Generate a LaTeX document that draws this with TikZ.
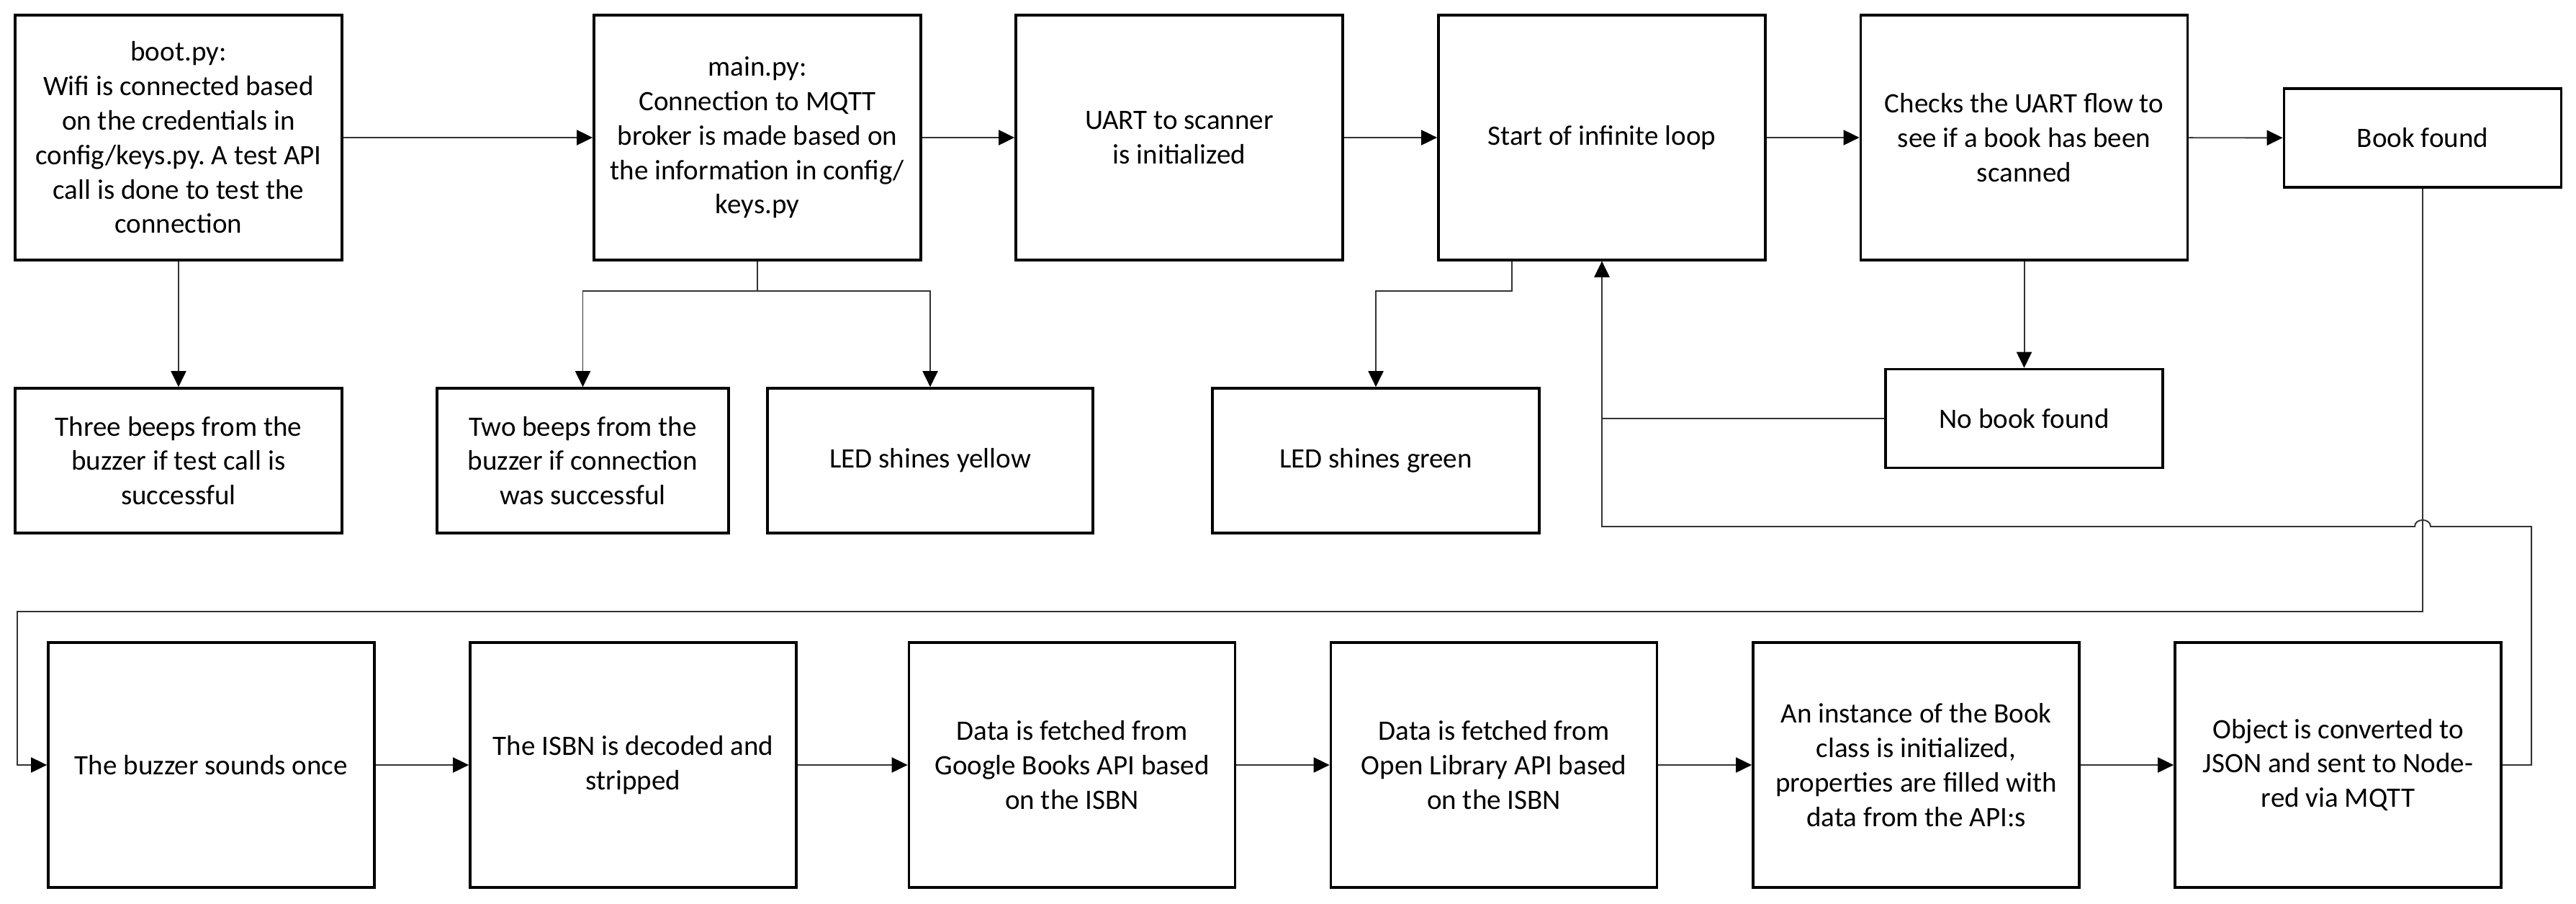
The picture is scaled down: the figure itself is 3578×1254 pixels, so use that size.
\documentclass[tikz,border=0pt]{standalone}
\usepackage{fontspec}
\setmainfont{Carlito}
\usetikzlibrary{arrows.meta}
\definecolor{linec}{HTML}{333333}
\frenchspacing

\begin{document}
\begin{tikzpicture}[x=0.01cm, y=-0.01cm, font=\fontsize{11.1pt}{13.6pt}\selectfont]
  \tikzset{box/.style={draw, line width=1pt, align=center, inner sep=0pt,
      minimum width=4.54cm, minimum height=3.4cm},
    lowbox/.style={box, minimum height=2.01cm},
    flat/.style={box, minimum width=3.85cm, minimum height=1.37cm},
    link/.style={draw=linec, line width=0.55pt},
    arr/.style={link, -{Triangle[length=0.22cm, width=0.21cm, color=black]}}}
  \useasboundingbox (0,0) rectangle (3578,1254);

  % top row
  \node[box] (boot) at (248,191) {boot.py:\\Wifi is connected based\\on the credentials in\\config/keys.py. A test API\\call is done to test the\\connection};
  \node[box] (main) at (1052,191) {main.py:\\Connection to MQTT\\broker is made based on\\the information in config/\\keys.py};
  \node[box] (uart) at (1638,191) {UART to scanner\\is initialized};
  \node[box] (start) at (2225,191) {Start of infinite loop};
  \node[box] (checks) at (2811.5,191) {Checks the UART flow to\\see if a book has been\\scanned};
  \node[flat] (book) at (3365,191.5) {Book found};

  % second row
  \node[lowbox] (three) at (248,639.5) {Three beeps from the\\buzzer if test call is\\successful};
  \node[lowbox, minimum width=4.05cm] (two) at (809.5,639.5) {Two beeps from the\\buzzer if connection\\was successful};
  \node[lowbox, minimum width=4.52cm] (yellow) at (1292,639.5) {LED shines yellow};
  \node[lowbox] (green) at (1911,639.5) {LED shines green};
  \node[flat] (nobook) at (2811.5,581) {No book found};

  % bottom row
  \node[box, minimum width=4.53cm] (buzzer) at (293.5,1062) {The buzzer sounds once};
  \node[box, minimum width=4.53cm] (isbn) at (879.5,1062) {The ISBN is decoded and\\stripped};
  \node[box, minimum width=4.53cm] (google) at (1489,1062) {Data is fetched from\\Google Books API based\\on the ISBN};
  \node[box, minimum width=4.53cm] (open) at (2075,1062) {Data is fetched from\\Open Library API based\\on the ISBN};
  \node[box, minimum width=4.53cm] (inst) at (2661.5,1062) {An instance of the Book\\class is initialized,\\properties are filled with\\data from the API:s};
  \node[box, minimum width=4.53cm] (obj) at (3247.5,1062) {Object is converted to\\JSON and sent to Node-\\red via MQTT};

  % corners of the connectors
  \coordinate (mainsplit) at (1052,404);
  \coordinate (startsplit) at (2100,404);
  \coordinate (bookdrop) at (3365,849);
  \coordinate (leftcol) at (24,849);
  \coordinate (loopright) at (3516,731);
  \coordinate (loopleft) at (2225,731);
  \coordinate (hop) at (3365,731);

  % main flow
  \draw[arr] (boot) -- (main);
  \draw[arr] (main) -- (uart);
  \draw[arr] (uart) -- (start);
  \draw[arr] (start) -- (checks);
  \draw[arr] (checks) -- (book);
  \draw[arr] (buzzer) -- (isbn);
  \draw[arr] (isbn) -- (google);
  \draw[arr] (google) -- (open);
  \draw[arr] (open) -- (inst);
  \draw[arr] (inst) -- (obj);

  % branches
  \draw[arr] (boot) -- (three);
  \draw[link] (main) -- (mainsplit);
  \draw[arr] (mainsplit) -| (two);
  \draw[arr] (mainsplit) -| (yellow);
  \draw[arr] (start.south -| startsplit) -- (startsplit) -| (green);
  \draw[arr] (checks) -- (nobook);
  \draw[arr] (nobook) -| (start);

  % loops
  \draw[arr] (book) -- (bookdrop) -- (leftcol) |- (buzzer);
  \draw[arr] (obj) -| (loopright) -- ([xshift=0.11cm]hop)
    .. controls +(0,-12) and +(0,-12) .. ([xshift=-0.11cm]hop)
    -- (loopleft) -- (start);
\end{tikzpicture}
\end{document}
